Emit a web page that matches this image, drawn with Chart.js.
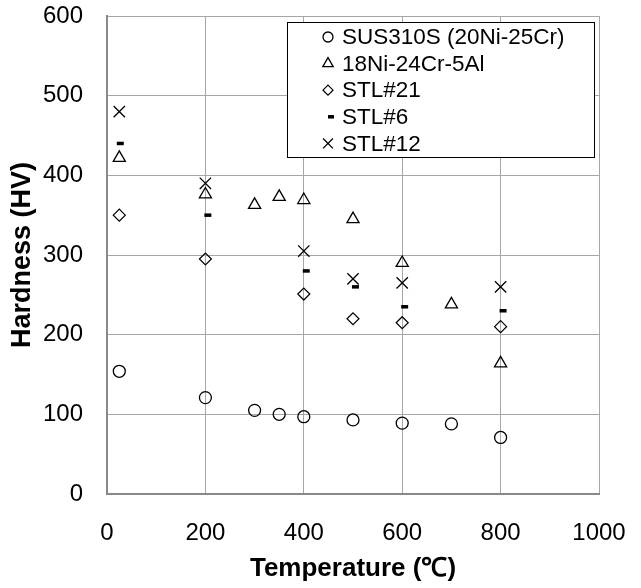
<!DOCTYPE html>
<html>
<head>
<meta charset="utf-8">
<script src="https://cdn.jsdelivr.net/npm/chart.js@4/dist/chart.umd.min.js"></script>
<style>
  html, body { margin: 0; padding: 0; background: #fff; }
  #wrap { width: 641px; height: 588px; position: relative; }
</style>
</head>
<body>
<div id="wrap"><canvas id="hardnessChart"></canvas></div>
<script>
// Hardness vs temperature
const seriesNames = ['SUS310S (20Ni-25Cr)', '18Ni-24Cr-5Al', 'STL#21', 'STL#6', 'STL#12'];

const susTemp = [25, 200, 300, 350, 400, 500, 600, 700, 800];
const susHv   = [154, 121, 105, 100, 97, 93, 89, 88, 71];

const niAlTemp = [25, 200, 300, 350, 400, 500, 600, 700, 800];
const niAlHv   = [422, 376, 363, 373, 369, 345, 290, 238, 164];

const stl21Temp = [25, 200, 400, 500, 600, 800];
const stl21Hv   = [350, 295, 251, 220, 215, 210];

const stl6Temp = [27, 205, 405, 505, 605, 805];
const stl6Hv   = [440, 350, 280, 260, 235, 230];

const stl12Temp = [25, 200, 400, 500, 600, 800];
const stl12Hv   = [480, 390, 305, 270, 265, 260];

const xTicks = [0, 200, 400, 600, 800, 1000];
const yTicks = [0, 100, 200, 300, 400, 500, 600];

function toPoints(xs, ys) {
    return xs.map((x, i) => ({ x: x, y: ys[i] }));
}

const FONT = "'Liberation Sans', Arial, sans-serif";

// legend drawn inside the plot, like the Excel one
const legendBox = {
    id: 'legendBox',
    afterDraw(chart, args, opts) {
        const ctx = chart.ctx;
        ctx.save();
        ctx.fillStyle = '#fff';
        ctx.fillRect(opts.x, opts.y, opts.w, opts.h);
        ctx.strokeStyle = '#000';
        ctx.lineWidth = 1;
        ctx.strokeRect(opts.x + 0.5, opts.y + 0.5, opts.w, opts.h);

        chart.data.datasets.forEach((ds, i) => {
            const cy = opts.y + opts.firstRow + i * opts.rowGap;
            ctx.save();
            ctx.strokeStyle = '#000';
            ctx.fillStyle = '#fff';
            ctx.lineWidth = ds.legendBorder;
            Chart.helpers.drawPoint(ctx, {
                pointStyle: ds.pointStyle,
                radius: ds.legendRadius,
                borderWidth: ds.legendBorder,
                rotation: 0
            }, opts.symbolX + (ds.legendShift || 0), cy);
            ctx.restore();

            ctx.fillStyle = '#000';
            ctx.font = opts.fontSize + 'px ' + FONT;
            ctx.textBaseline = 'middle';
            ctx.textAlign = 'left';
            ctx.fillText(ds.label, opts.textX, cy + 1);
        });
        ctx.restore();
    }
};

function makeSet(label, xs, ys, style, radius, border, legendRadius, legendShift) {
    return {
        label: label,
        data: toPoints(xs, ys),
        showLine: false,
        pointStyle: style,
        pointRadius: radius,
        pointHoverRadius: radius,
        pointBorderWidth: border,
        pointBorderColor: '#000',
        pointBackgroundColor: 'rgba(255,255,255,0)',
        borderColor: '#000',
        legendRadius: legendRadius,
        legendBorder: border,
        legendShift: legendShift
    };
}

new Chart(document.getElementById('hardnessChart'), {
    type: 'scatter',
    data: {
        datasets: [
            makeSet(seriesNames[0], susTemp, susHv, 'circle', 6, 1.3, 5, 0),
            makeSet(seriesNames[1], niAlTemp, niAlHv, 'triangle', 7, 1.3, 6, 0),
            makeSet(seriesNames[2], stl21Temp, stl21Hv, 'rectRot', 6, 1.2, 5, 0),
            makeSet(seriesNames[3], stl6Temp, stl6Hv, 'line', 3.5, 3.5, 3, 3),
            makeSet(seriesNames[4], stl12Temp, stl12Hv, 'crossRot', 8, 1.3, 7, 0)
        ]
    },
    options: {
        responsive: true,
        maintainAspectRatio: false,
        animation: false,
        layout: { padding: { top: 16, right: 42, bottom: 4, left: 0 } },
        plugins: {
            legend: { display: false },
            tooltip: { enabled: false },
            legendBox: {
                x: 287, y: 22, w: 307, h: 135,
                symbolX: 328, textX: 342,
                firstRow: 15, rowGap: 26.6,
                fontSize: 22.5
            }
        },
        scales: {
            x: {
                type: 'linear',
                min: xTicks[0],
                max: xTicks[xTicks.length - 1],
                afterBuildTicks(scale) {
                    scale.ticks = xTicks.map(v => ({ value: v }));
                },
                afterFit(scale) { scale.height = 90; },
                grid: { color: '#a6a6a6', lineWidth: 1, drawTicks: true, tickLength: 25, tickColor: 'rgba(0,0,0,0)' },
                border: { color: '#898989', width: 2 },
                ticks: {
                    color: '#000',
                    padding: 0,
                    maxRotation: 0,
                    callback: v => String(v),
                    font: { family: FONT, size: 24 }
                },
                title: {
                    display: true,
                    text: 'Temperature (\u2103)',
                    color: '#000',
                    padding: { top: 0, bottom: 0 },
                    font: { family: FONT, size: 26, weight: 'bold' }
                }
            },
            y: {
                type: 'linear',
                min: yTicks[0],
                max: yTicks[yTicks.length - 1],
                afterBuildTicks(scale) {
                    scale.ticks = yTicks.map(v => ({ value: v }));
                },
                afterFit(scale) { scale.width = 107; },
                grid: { color: '#a6a6a6', lineWidth: 1, drawTicks: true, tickLength: 24, tickColor: 'rgba(0,0,0,0)' },
                border: { color: '#898989', width: 2 },
                ticks: {
                    color: '#000',
                    padding: 0,
                    callback: v => String(v),
                    font: { family: FONT, size: 24 }
                },
                title: {
                    display: true,
                    text: 'Hardness (HV)',
                    color: '#000',
                    padding: { top: 6, bottom: 0 },
                    font: { family: FONT, size: 27, weight: 'bold' }
                }
            }
        }
    },
    plugins: [legendBox]
});
</script>
</body>
</html>
